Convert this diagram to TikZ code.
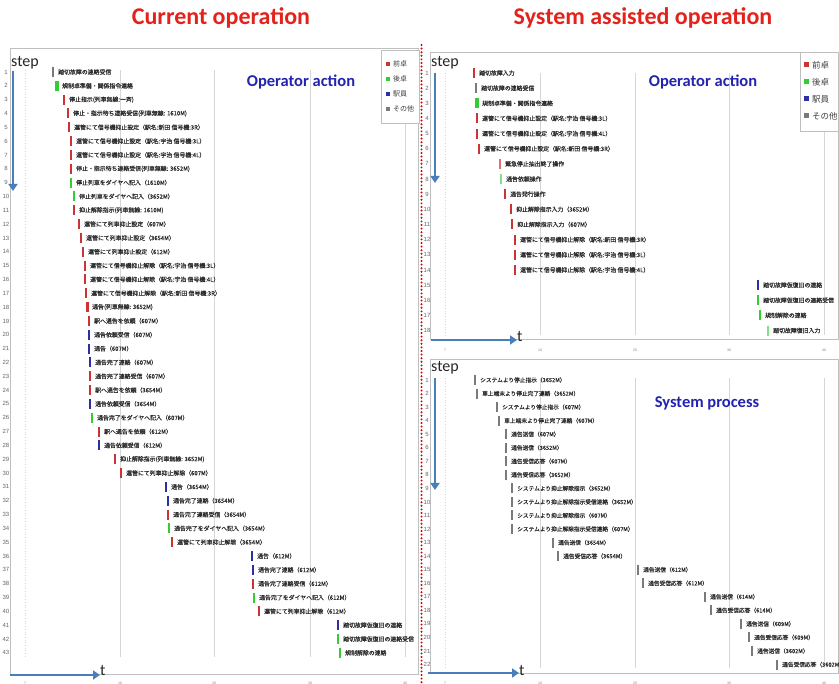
\documentclass[tikz,border=0pt]{standalone}
\usepackage{fontspec}
\setmainfont{Carlito}
\newfontfamily\jpfont[FakeBold=0.5]{Noto Sans CJK JP}
\newfontfamily\jplegend{Noto Sans CJK JP}
\newfontfamily\numfont{Liberation Sans}
\usetikzlibrary{arrows.meta}

\definecolor{titlered}{HTML}{E3231B}
\definecolor{headblue}{HTML}{2323B2}
\definecolor{axisblue}{HTML}{4A7EBB}
\definecolor{deskred}{HTML}{CC3434}
\definecolor{deskgreen}{HTML}{33CC33}
\definecolor{staffblue}{HTML}{2E2EA6}
\definecolor{othergray}{HTML}{7A7A7A}
\definecolor{labelgray}{HTML}{2C2C2C}
\definecolor{gridgray}{HTML}{D6D6D6}

\tikzset{
  evlabel/.style={anchor=west, inner sep=0pt, font=\jpfont\fontsize{5.9}{6}\selectfont, text=labelgray},
  syslabel/.style={font=\jpfont\fontsize{5.7}{6}\selectfont},
  rownum/.style={inner sep=0pt, font=\numfont\fontsize{6}{6}\selectfont, text=black!60},
  gridline/.style={draw=gridgray, line width=0.7pt},
  firstgrid/.style={draw=gridgray, line width=0.7pt, dotted},
  panelframe/.style={draw=black!25, line width=0.9pt},
  axisarrow/.style={draw=axisblue, line width=2.2pt, -{Triangle[length=7pt,width=9pt]}},
  heading/.style={font=\bfseries\fontsize{24}{26}\selectfont, text=titlered},
  subhead/.style={font=\bfseries\fontsize{16.5}{18}\selectfont, text=headblue},
  axislabel/.style={font=\fontsize{16}{17}\selectfont, inner sep=0pt, text=black!85},
  ticklabel/.style={font=\numfont\fontsize{3.5}{4}\selectfont, text=black!50, inner sep=0pt},
  legendsmall/.style={anchor=west, inner sep=0pt, font=\jplegend\fontsize{7}{8}\selectfont, text=black!75},
  legendlarge/.style={anchor=west, inner sep=0pt, font=\jplegend\fontsize{8.5}{9}\selectfont, text=black!75},
}

% one timeline entry: coloured bar plus its label
\newcommand\evmark[7]{% name, bar x, row y, colour, bar width, label, extra label style
  \draw[draw=#4, line width=#5] (#2,#3-5) -- (#2,#3+5);
  \node[evlabel,#7] (#1) at (#2+5,#3) {#6};}
\newcommand\curev[5]{\pgfmathsetmacro\rowy{72+(#1-1)*13.83}\evmark{cur#1}{#2}{\rowy}{#3}{#4}{#5}{}}
\newcommand\actev[5]{\pgfmathsetmacro\rowy{73+(#1-1)*15.15}\evmark{act#1}{#2}{\rowy}{#3}{#4}{#5}{}}
\newcommand\sysev[3]{\pgfmathsetmacro\rowy{380+(#1-1)*13.55}\evmark{sys#1}{#2}{\rowy}{othergray}{1.4pt}{#3}{syslabel}}

\begin{document}
\begin{tikzpicture}[x=1pt,y=-1pt]
\useasboundingbox[fill=white] (0,0) rectangle (839,684);

% headings
\node[heading] (hcur) at (221,18) {Current operation};
\node[heading] (hsys) at (643,18) {System assisted operation};

% ---------------- current operation panel ----------------
\draw[panelframe] (10,48) rectangle (418,674);
\draw[firstgrid] (25,70) -- (25,657);
\foreach \gx in {120,214,310,405} \draw[gridline] (\gx,70) -- (\gx,657);
\foreach \gx/\lab in {25/7,120/10,214/20,310/30,405/40}
  \node[ticklabel] (tickL\lab) at (\gx,683) {\lab};
\foreach \r in {1,...,43} \node[rownum] (rnL\r) at (6,{72+(\r-1)*13.83}) {\r};

\node[subhead] (opL) at (301,82) {Operator action};

\draw[panelframe, fill=white] (381,50) rectangle (419,123);
\foreach \c/\t [count=\i] in {deskred/前卓, deskgreen/後卓, staffblue/駅員, othergray/その他} {
  \fill[\c] (386,{62+(\i-1)*15}) rectangle +(4,4);
  \node[legendsmall] (lgL\i) at (393,{64+(\i-1)*15}) {\t};
}

\node[axislabel, anchor=west] (stepL) at (11,63) {step};
\coordinate (sLa) at (13,71);
\coordinate (sLb) at (13,191);
\draw[axisarrow] (sLa) -- (sLb);
\node[axislabel, anchor=west] (tL) at (100,671) {t};
\coordinate (tLa) at (10,675);
\draw[axisarrow] (tLa) -- (tL.west |- tLa);

\curev{1}{53}{othergray}{1.6pt}{踏切故障の連絡受信}
\curev{2}{57}{deskgreen}{4pt}{規制卓準備・関係指令連絡}
\curev{3}{64}{deskred}{1.6pt}{停止指示(列車無線:一斉)}
\curev{4}{68}{deskred}{1.6pt}{停止・指示待ち連絡受信(列車無線: 1610M)}
\curev{5}{69}{deskred}{1.6pt}{運管にて信号機抑止設定（駅名:新田 信号機:3R）}
\curev{6}{71}{deskred}{1.6pt}{運管にて信号機抑止設定（駅名:宇治 信号機:3L）}
\curev{7}{71}{deskred}{1.6pt}{運管にて信号機抑止設定（駅名:宇治 信号機:4L）}
\curev{8}{71}{deskred}{1.6pt}{停止・指示待ち連絡受信(列車無線: 3652M)}
\curev{9}{71}{deskgreen}{1.6pt}{停止列車をダイヤへ記入（1610M）}
\curev{10}{74}{deskgreen}{1.6pt}{停止列車をダイヤへ記入（3652M）}
\curev{11}{74}{deskred}{1.6pt}{抑止解除指示(列車無線: 1610M)}
\curev{12}{79}{deskred}{1.6pt}{運管にて列車抑止設定（607M）}
\curev{13}{81}{deskred}{1.6pt}{運管にて列車抑止設定（3654M）}
\curev{14}{83}{deskred}{1.6pt}{運管にて列車抑止設定（612M）}
\curev{15}{85}{deskred}{1.6pt}{運管にて信号機抑止解除（駅名:宇治 信号機:3L）}
\curev{16}{85}{deskred}{1.6pt}{運管にて信号機抑止解除（駅名:宇治 信号機:4L）}
\curev{17}{86}{deskred}{1.6pt}{運管にて信号機抑止解除（駅名:新田 信号機:3R）}
\curev{18}{87}{deskred}{3pt}{通告(列車無線: 3652M)}
\curev{19}{89}{deskred}{1.6pt}{駅へ通告を依頼（607M）}
\curev{20}{89}{staffblue}{1.6pt}{通告依頼受信（607M）}
\curev{21}{89}{staffblue}{1.6pt}{通告（607M）}
\curev{22}{90}{staffblue}{1.6pt}{通告完了連絡（607M）}
\curev{23}{90}{deskred}{1.6pt}{通告完了連絡受信（607M）}
\curev{24}{90}{deskred}{1.6pt}{駅へ通告を依頼（3654M）}
\curev{25}{90}{staffblue}{1.6pt}{通告依頼受信（3654M）}
\curev{26}{92}{deskgreen}{1.6pt}{通告完了をダイヤへ記入（607M）}
\curev{27}{99}{deskred}{1.6pt}{駅へ通告を依頼（612M）}
\curev{28}{99}{staffblue}{1.6pt}{通告依頼受信（612M）}
\curev{29}{115}{deskred}{1.6pt}{抑止解除指示(列車無線: 3652M)}
\curev{30}{121}{deskred}{1.6pt}{運管にて列車抑止解除（607M）}
\curev{31}{166}{staffblue}{1.6pt}{通告（3654M）}
\curev{32}{168}{staffblue}{1.6pt}{通告完了連絡（3654M）}
\curev{33}{168}{deskred}{1.6pt}{通告完了連絡受信（3654M）}
\curev{34}{169}{deskgreen}{1.6pt}{通告完了をダイヤへ記入（3654M）}
\curev{35}{172}{deskred}{1.6pt}{運管にて列車抑止解除（3654M）}
\curev{36}{252}{staffblue}{1.6pt}{通告（612M）}
\curev{37}{253}{staffblue}{1.6pt}{通告完了連絡（612M）}
\curev{38}{253}{deskred}{1.6pt}{通告完了連絡受信（612M）}
\curev{39}{254}{deskgreen}{1.6pt}{通告完了をダイヤへ記入（612M）}
\curev{40}{259}{deskred}{1.6pt}{運管にて列車抑止解除（612M）}
\curev{41}{338}{staffblue}{1.6pt}{踏切故障仮復旧の連絡}
\curev{42}{338}{deskgreen}{1.6pt}{踏切故障仮復旧の連絡受信}
\curev{43}{340}{deskgreen}{1.6pt}{規制解除の連絡}

% ---------------- system assisted: operator actions ----------------
\draw[panelframe] (430,52) rectangle (838,339);
\draw[firstgrid] (445,73) -- (445,335);
\foreach \gx in {540,635,729,824} \draw[gridline] (\gx,73) -- (\gx,335);
\foreach \gx/\lab in {445/7,540/10,635/20,729/30,824/40}
  \node[ticklabel] (tickA\lab) at (\gx,350) {\lab};
\foreach \r in {1,...,18} \node[rownum] (rnA\r) at (427,{73+(\r-1)*15.15}) {\r};

\node[subhead] (opA) at (703,82) {Operator action};

\draw[panelframe, fill=white] (800,52) rectangle (838,131);
\foreach \c/\t [count=\i] in {deskred/前卓, deskgreen/後卓, staffblue/駅員, othergray/その他} {
  \fill[\c] (804,{62.5+(\i-1)*17}) rectangle +(5,5);
  \node[legendlarge] (lgA\i) at (812,{65+(\i-1)*17}) {\t};
}

\node[axislabel, anchor=west] (stepA) at (431,63) {step};
\coordinate (sAa) at (435,73);
\coordinate (sAb) at (435,183);
\draw[axisarrow] (sAa) -- (sAb);
\node[axislabel, anchor=west] (tA) at (517,337) {t};
\coordinate (tAa) at (431,340);
\draw[axisarrow] (tAa) -- (tA.west |- tAa);

\actev{1}{474}{deskred}{1.6pt}{踏切故障入力}
\actev{2}{476}{othergray}{1.6pt}{踏切故障の連絡受信}
\actev{3}{477}{deskgreen}{4pt}{規制卓準備・関係指令連絡}
\actev{4}{477}{deskred}{1.6pt}{運管にて信号機抑止設定（駅名:宇治 信号機:3L）}
\actev{5}{477}{deskred}{1.6pt}{運管にて信号機抑止設定（駅名:宇治 信号機:4L）}
\actev{6}{479}{deskred}{1.6pt}{運管にて信号機抑止設定（駅名:新田 信号機:3R）}
\actev{7}{500}{deskred!70}{1.4pt}{緊急停止抽出終了操作}
\actev{8}{501}{deskgreen!60}{1.4pt}{通告依頼操作}
\actev{9}{505}{deskred}{1.6pt}{通告発行操作}
\actev{10}{511}{deskred}{1.6pt}{抑止解除指示入力（3652M）}
\actev{11}{512}{deskred}{1.6pt}{抑止解除指示入力（607M）}
\actev{12}{515}{deskred}{1.6pt}{運管にて信号機抑止解除（駅名:新田 信号機:3R）}
\actev{13}{515}{deskred}{1.6pt}{運管にて信号機抑止解除（駅名:宇治 信号機:3L）}
\actev{14}{515}{deskred}{1.6pt}{運管にて信号機抑止解除（駅名:宇治 信号機:4L）}
\actev{15}{758}{staffblue}{1.6pt}{踏切故障仮復旧の連絡}
\actev{16}{758}{deskgreen}{1.6pt}{踏切故障仮復旧の連絡受信}
\actev{17}{760}{deskgreen}{1.6pt}{規制解除の連絡}
\actev{18}{768}{deskgreen!60}{1.4pt}{踏切故障復旧入力}

% ---------------- system assisted: system process ----------------
\draw[panelframe] (430,359) rectangle (838,673);
\draw[firstgrid] (445,378) -- (445,668);
\foreach \gx in {540,635,729,824} \draw[gridline] (\gx,378) -- (\gx,668);
\foreach \gx/\lab in {445/7,540/10,635/20,729/30,824/40}
  \node[ticklabel] (tickS\lab) at (\gx,683) {\lab};
\foreach \r in {1,...,22} \node[rownum] (rnS\r) at (427,{380+(\r-1)*13.55}) {\r};

\node[subhead] (sysproc) at (707,403) {System process};

\node[axislabel, anchor=west] (stepS) at (431,368) {step};
\coordinate (sSa) at (435,378);
\coordinate (sSb) at (435,490);
\draw[axisarrow] (sSa) -- (sSb);
\node[axislabel, anchor=west] (tS) at (519,670) {t};
\coordinate (tSa) at (428,673);
\draw[axisarrow] (tSa) -- (tS.west |- tSa);

\sysev{1}{475}{システムより停止指示（3652M）}
\sysev{2}{477}{車上端末より停止完了連絡（3652M）}
\sysev{3}{497}{システムより停止指示（607M）}
\sysev{4}{499}{車上端末より停止完了連絡（607M）}
\sysev{5}{506}{通告送信（607M）}
\sysev{6}{506}{通告送信（3652M）}
\sysev{7}{506}{通告受信応答（607M）}
\sysev{8}{506}{通告受信応答（3652M）}
\sysev{9}{512}{システムより抑止解除指示（3652M）}
\sysev{10}{512}{システムより抑止解除指示受信連絡（3652M）}
\sysev{11}{512}{システムより抑止解除指示（607M）}
\sysev{12}{512}{システムより抑止解除指示受信連絡（607M）}
\sysev{13}{553}{通告送信（3654M）}
\sysev{14}{558}{通告受信応答（3654M）}
\sysev{15}{638}{通告送信（612M）}
\sysev{16}{643}{通告受信応答（612M）}
\sysev{17}{705}{通告送信（614M）}
\sysev{18}{711}{通告受信応答（614M）}
\sysev{19}{741}{通告送信（609M）}
\sysev{20}{749}{通告受信応答（609M）}
\sysev{21}{752}{通告送信（3602M）}
\sysev{22}{777}{通告受信応答（3602M）}

% dotted separator between the two halves
\draw[draw=red!85!black, line width=2.2pt, line cap=round, dash pattern=on 0pt off 3.6pt] (421.5,45) -- (421.5,684);
\end{tikzpicture}
\end{document}
